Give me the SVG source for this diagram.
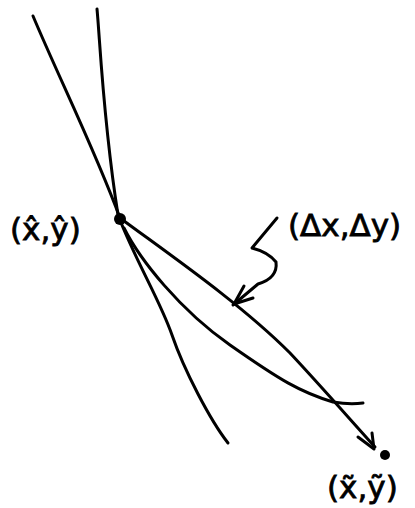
<svg xmlns="http://www.w3.org/2000/svg" width="415" height="508" viewBox="0 0 415 508">
<style>
.c{fill:none;stroke:#000;stroke-width:3;stroke-linecap:round;stroke-linejoin:round}
.t{font-family:"DejaVu Sans",sans-serif;font-size:31px;fill:#000;stroke:#000;stroke-width:0.8}
</style>
<rect width="415" height="508" fill="#fff"/>
<g id="connectors">
<path class="c" d="M33,16 C60,80 95,150 120,218 C170,255 240,303 290,353 C320,385 355,425 375,447"/>
<path class="c" d="M97,9 C100,40 103,120 118,215 C135,260 160,300 172,335 S210,420 228,443"/>
<path class="c" d="M124,228 C140,260 180,310 230,345 S300,392 333,402 Q350,405 363,403"/>
<path class="c" d="M277,218 L252,248 Q268,252 276,262 Q278,278 258,284 L233,305"/>
<path class="c" d="M244,286 L234,304 L253,298"/>
<path class="c" d="M358,437 L374,449 L372,433"/>
</g>
<g id="p1"><circle cx="120" cy="219" r="6"/><text class="t" x="10" y="240">(x̂,ŷ)</text></g>
<g id="p2"><text class="t" x="288" y="236">(Δx,Δy)</text></g>
<g id="p3"><circle cx="385" cy="455" r="5"/><text class="t" x="327" y="498">(x̃,ỹ)</text></g>
</svg>
